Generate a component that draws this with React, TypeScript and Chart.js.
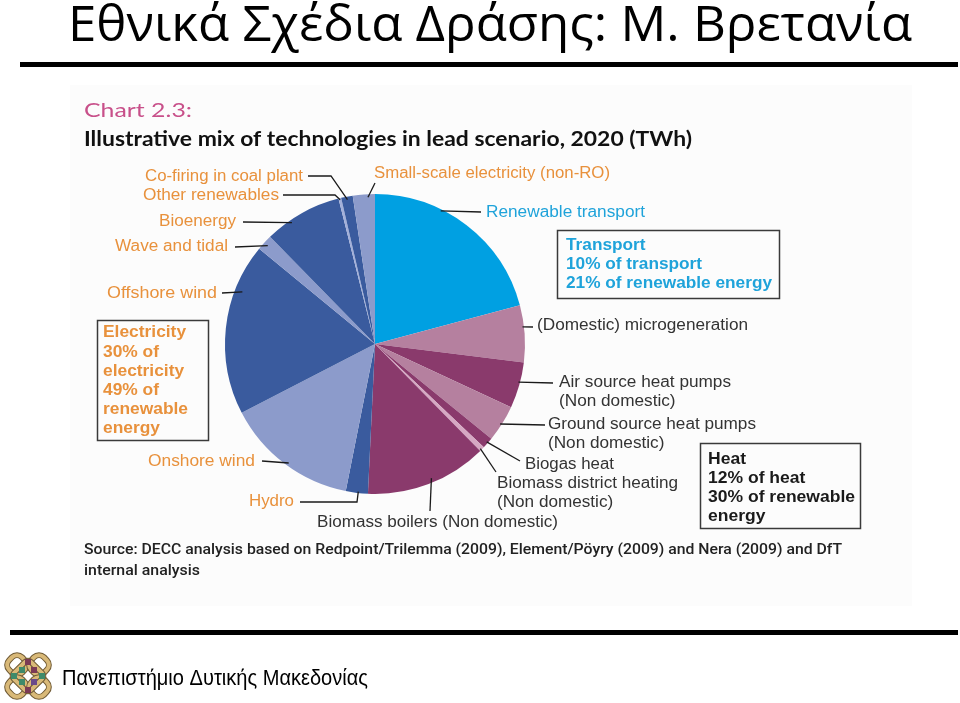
import React, { useEffect, useRef } from "react";
import { Chart, registerables } from "chart.js";

Chart.register(...registerables);

const categories = [
  "Renewable transport",
  "(Domestic) microgeneration",
  "Air source heat pumps (Non domestic)",
  "Ground source heat pumps (Non domestic)",
  "Biogas heat",
  "Biomass district heating (Non domestic)",
  "Biomass boilers (Non domestic)",
  "Hydro",
  "Onshore wind",
  "Offshore wind",
  "Wave and tidal",
  "Bioenergy",
  "Other renewables",
  "Co-firing in coal plant",
  "Small-scale electricity (non-RO)",
];

// TWh
const valuesTWh = [50, 14.7, 11.9, 9.5, 2.9, 1.3, 31.5, 5.7, 34.3, 44.5, 4.1, 20.2, 0.7, 3.0, 5.7];

const labelLines = [
  ["Renewable transport"],
  ["(Domestic) microgeneration"],
  ["Air source heat pumps", "(Non domestic)"],
  ["Ground source heat pumps", "(Non domestic)"],
  ["Biogas heat"],
  ["Biomass district heating", "(Non domestic)"],
  ["Biomass boilers (Non domestic)"],
  ["Hydro"],
  ["Onshore wind"],
  ["Offshore wind"],
  ["Wave and tidal"],
  ["Bioenergy"],
  ["Other renewables"],
  ["Co-firing in coal plant"],
  ["Small-scale electricity (non-RO)"],
];

const transportBox = ["Transport", "10% of transport", "21% of renewable energy"];
const electricityBox = ["Electricity", "30% of", "electricity", "49% of", "renewable", "energy"];
const heatBox = ["Heat", "12% of heat", "30% of renewable", "energy"];

const slideTitle = "Εθνικά Σχέδια Δράσης: Μ. Βρετανία";
const chartNo = "Chart 2.3:";
const chartTitle = "Illustrative mix of technologies in lead scenario, 2020 (TWh)";
const sourceLines = [
  "Source: DECC analysis based on Redpoint/Trilemma (2009), Element/Pöyry (2009) and Nera (2009) and DfT",
  "internal analysis",
];
const footerText = "Πανεπιστήμιο Δυτικής Μακεδονίας";

// styles
const CYAN = "#00a0e2";
const MAUVE = "#b5809f";
const PLUM = "#8a3a6c";
const PINK = "#d6a8c3";
const NAVY = "#3a5b9e";
const LAV = "#8c9bcb";
const LAV2 = "#a3b0da";
const ORANGE = "#e8913c";
const TXTCYAN = "#1fa3da";
const DARK = "#333333";

const sliceColors = [CYAN, MAUVE, PLUM, MAUVE, PLUM, PINK, PLUM, NAVY, LAV, NAVY, LAV, NAVY, LAV2, NAVY, LAV];

// label layout: x, y(center of first line), width of longest line, color, leader points, anchor t & r fraction
const labelLayout = [
  { x: 486, y: 212, w: 159, c: TXTCYAN, pts: [[481, 212]], t: 0.35, r: 0.99 },
  { x: 537, y: 325, w: 211, c: DARK, pts: [[533, 327]], t: 0.38, r: 0.99 },
  { x: 559, y: 382, w: 172, c: DARK, pts: [[553, 383]], t: 0.44, r: 0.99 },
  { x: 548, y: 424, w: 208, c: DARK, pts: [[545, 425]], t: 0.54, r: 0.99 },
  { x: 525, y: 464, w: 89, c: DARK, pts: [[520, 461]], t: 0.48, r: 0.99 },
  { x: 497, y: 483, w: 181, c: DARK, pts: [[496, 472]], t: 0.68, r: 0.99 },
  { x: 317, y: 522, w: 241, c: DARK, pts: [[430, 511]], t: 0.46, r: 0.97 },
  { x: 249, y: 501, w: 45, c: ORANGE, pts: [[300, 502], [357, 502]], t: 0.44, r: 0.99 },
  { x: 148, y: 461, w: 107, c: ORANGE, pts: [[262, 461]], t: 0.48, r: 0.98 },
  { x: 107, y: 293, w: 110, c: ORANGE, pts: [[222, 293]], t: 0.73, r: 0.95 },
  { x: 115, y: 246, w: 113, c: ORANGE, pts: [[235, 247]], t: 0.5, r: 0.97 },
  { x: 159, y: 221, w: 77, c: ORANGE, pts: [[243, 222]], t: 0.33, r: 0.98 },
  { x: 143, y: 195, w: 136, c: ORANGE, pts: [[283, 195], [335, 195]], t: 0.5, r: 0.99 },
  { x: 145, y: 176, w: 158, c: ORANGE, pts: [[308, 176], [331, 176]], t: 0.5, r: 0.98 },
  { x: 374, y: 173, w: 236, c: ORANGE, pts: [[375, 183]], t: 0.68, r: 0.98 },
];

function drawText(ctx: CanvasRenderingContext2D, s: string, x: number, y: number, font: string, color: string, w?: number) {
  ctx.save();
  ctx.font = font;
  ctx.fillStyle = color;
  ctx.textBaseline = "middle";
  ctx.textAlign = "left";
  ctx.translate(x, y);
  if (w) {
    const m = ctx.measureText(s).width;
    ctx.scale(w / m, 1);
  }
  ctx.fillText(s, 0, 0);
  ctx.restore();
}

function scaleFor(ctx: CanvasRenderingContext2D, s: string, font: string, w: number) {
  ctx.save();
  ctx.font = font;
  const m = ctx.measureText(s).width;
  ctx.restore();
  return w / m;
}

function drawLines(ctx: CanvasRenderingContext2D, lines: string[], x: number, y: number, lh: number, font: string, color: string, longest: number) {
  let maxLine = lines[0];
  ctx.save();
  ctx.font = font;
  for (const l of lines) if (ctx.measureText(l).width > ctx.measureText(maxLine).width) maxLine = l;
  ctx.restore();
  const sx = scaleFor(ctx, maxLine, font, longest);
  lines.forEach((l, i) => {
    ctx.save();
    ctx.font = font;
    ctx.fillStyle = color;
    ctx.textBaseline = "middle";
    ctx.translate(x, y + 1 + i * lh);
    ctx.scale(sx, 1);
    ctx.fillText(l, 0, 0);
    ctx.restore();
  });
}

function drawLogo(ctx: CanvasRenderingContext2D, cx: number, cy: number) {
  ctx.save();
  ctx.translate(cx, cy);
  const loop = (dx: number, dy: number) => {
    ctx.save();
    ctx.translate(dx, dy);
    ctx.rotate(Math.PI / 4);
    ctx.beginPath();
    ctx.roundRect(-9, -9, 18, 18, 7);
    ctx.lineWidth = 6;
    ctx.strokeStyle = "#6f5a35";
    ctx.stroke();
    ctx.lineWidth = 4;
    ctx.strokeStyle = "#d9b978";
    ctx.stroke();
    ctx.restore();
  };
  loop(-11, -11);
  loop(11, -11);
  loop(-11, 11);
  loop(11, 11);
  ctx.save();
  ctx.rotate(Math.PI / 4);
  ctx.beginPath();
  ctx.roundRect(-12, -12, 24, 24, 4);
  ctx.lineWidth = 6;
  ctx.strokeStyle = "#6f5a35";
  ctx.stroke();
  ctx.lineWidth = 4;
  ctx.strokeStyle = "#d9b978";
  ctx.stroke();
  ctx.restore();
  const sq = (x: number, y: number, c: string) => {
    ctx.fillStyle = c;
    ctx.fillRect(x - 3, y - 3, 6, 6);
  };
  sq(0, -14, "#7b3a55");
  sq(0, 14, "#7b3a55");
  sq(-14, 0, "#3f8a6a");
  sq(14, 0, "#3f8a6a");
  sq(-6, -6, "#3f8a6a");
  sq(6, 6, "#6a4a8a");
  sq(6, -6, "#7b3a55");
  sq(-6, 6, "#3f8a6a");
  ctx.restore();
}

const pagePlugin = {
  id: "page",
  beforeDraw(chart: any) {
    const ctx: CanvasRenderingContext2D = chart.ctx;
    ctx.save();
    ctx.fillStyle = "#ffffff";
    ctx.fillRect(0, 0, 960, 703);
    ctx.fillStyle = "#fcfcfc";
    ctx.fillRect(70, 85, 842, 521);
    // slide title
    drawText(ctx, slideTitle, 68, 27, "50px 'Open Sans'", "#000", 844);
    ctx.fillStyle = "#000";
    ctx.fillRect(20, 62, 938, 5);
    ctx.fillRect(10, 630, 948, 5);
    drawText(ctx, footerText, 62, 679, "22px 'Liberation Sans'", "#000", 306);
    drawLogo(ctx, 28, 676);
    // chart headings
    drawText(ctx, chartNo, 84, 111, "20px Lato", "#c8508a", 108);
    drawText(ctx, chartTitle, 84, 140, "bold 20px Lato", "#111", 608);
    drawText(ctx, sourceLines[0], 84, 550, "500 15px Roboto", "#222", 758);
    drawText(ctx, sourceLines[1], 84, 571, "500 15px Roboto", "#222", 116);
    ctx.restore();
  },
  afterDatasetsDraw(chart: any) {
    const ctx: CanvasRenderingContext2D = chart.ctx;
    const meta = chart.getDatasetMeta(0);
    ctx.save();
    meta.data.forEach((arc: any, i: number) => {
      const p = arc.getProps(["x", "y", "startAngle", "endAngle", "outerRadius"], true);
      const L = labelLayout[i];
      const a = p.startAngle + (p.endAngle - p.startAngle) * L.t;
      const ax = p.x + Math.cos(a) * p.outerRadius * L.r;
      const ay = p.y + Math.sin(a) * p.outerRadius * L.r;
      ctx.beginPath();
      const pts = L.pts;
      ctx.moveTo(pts[0][0], pts[0][1]);
      for (let k = 1; k < pts.length; k++) ctx.lineTo(pts[k][0], pts[k][1]);
      ctx.lineTo(ax, ay);
      ctx.strokeStyle = "#1a1a1a";
      ctx.lineWidth = 1.3;
      ctx.stroke();
      drawLines(ctx, labelLines[i], L.x, L.y, 19, "16px 'Liberation Sans'", L.c, L.w);
    });
    // boxes
    ctx.strokeStyle = "#3a3a3a";
    ctx.lineWidth = 1.5;
    ctx.strokeRect(557.5, 230.5, 222, 68);
    drawLines(ctx, transportBox, 566, 245, 19, "bold 16px 'Liberation Sans'", TXTCYAN, 206);
    ctx.strokeRect(97.5, 320.5, 111, 120);
    drawLines(ctx, electricityBox, 103, 332, 19.2, "bold 16px 'Liberation Sans'", ORANGE, 85);
    ctx.strokeRect(700.5, 443.5, 160, 85);
    drawLines(ctx, heatBox, 708, 459, 19, "bold 16px 'Liberation Sans'", "#1a1a1a", 147);
    ctx.restore();
  },
};

export default function App() {
  const ref = useRef<HTMLCanvasElement>(null);
  useEffect(() => {
    document.body.style.margin = "0";
    const cx = 375, cy = 344, r = 150;
    const chart = new Chart(ref.current!, {
      type: "pie",
      data: {
        labels: categories,
        datasets: [
          {
            data: valuesTWh,
            backgroundColor: sliceColors,
            borderWidth: 0,
          },
        ],
      },
      options: {
        responsive: false,
        animation: false,
        events: [],
        layout: {
          padding: { left: cx - r, right: 960 - (cx + r), top: cy - r, bottom: 703 - (cy + r) },
        },
        plugins: {
          legend: { display: false },
          title: { display: false },
          tooltip: { enabled: false },
        },
      },
      plugins: [pagePlugin],
    });
    return () => chart.destroy();
  }, []);
  return (
    <div style={{ position: "fixed", left: 0, top: 0, width: 960, height: 703, background: "#fff" }}>
      <canvas ref={ref} width={960} height={703} style={{ width: 960, height: 703, display: "block" }} />
    </div>
  );
}
